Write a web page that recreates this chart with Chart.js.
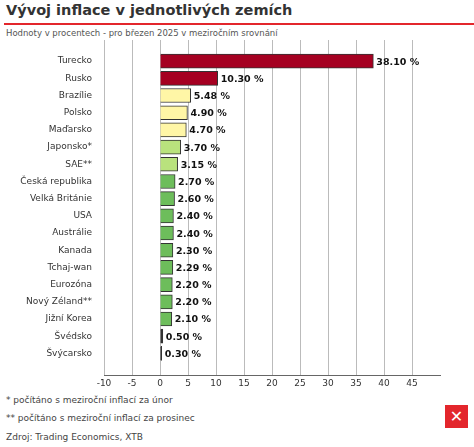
<!DOCTYPE html><html><head><meta charset="utf-8">
<script src="https://cdn.jsdelivr.net/npm/chart.js@4"></script>
<style>
body{margin:0;width:474px;height:447px;background:#fff;font-family:"DejaVu Sans",sans-serif;position:relative;overflow:hidden}
#t{position:absolute;left:6px;top:2px;font-size:14.5px;font-weight:bold;color:#333}
#line{position:absolute;left:4px;top:23px;width:470px;height:2px;background:#e3262c}
#s{position:absolute;left:6px;top:28px;font-size:8.5px;color:#555}
#c{position:absolute;left:0;top:40px}
.f{position:absolute;left:6px;font-size:9px;color:#444}
#logo{position:absolute;left:445px;top:405px;width:23px;height:23px;background:#e3262c;color:#fff;font-weight:bold;font-size:16px;text-align:center;line-height:23px}
</style></head><body>
<div id="t">Vývoj inflace v jednotlivých zemích</div><div id="line"></div>
<div id="s">Hodnoty v procentech - pro březen 2025 v meziročním srovnání</div>
<div id="c"><canvas id="cv" width="474" height="352" style="width:474px;height:352px"></canvas></div>
<div class="f" style="top:395px">* počítáno s meziroční inflací za únor</div>
<div class="f" style="top:413px">** počítáno s meziroční inflací za prosinec</div>
<div class="f" style="top:432px">Zdroj: Trading Economics, XTB</div>
<div id="logo">✕</div>
<script>
const categories=["Turecko","Rusko","Brazílie","Polsko","Maďarsko","Japonsko*","SAE**","Česká republika","Velká Británie","USA","Austrálie","Kanada","Tchaj-wan","Eurozóna","Nový Zéland**","Jižní Korea","Švédsko","Švýcarsko"];
const values=[38.10,10.30,5.48,4.90,4.70,3.70,3.15,2.70,2.60,2.40,2.40,2.30,2.29,2.20,2.20,2.10,0.50,0.30];
const colors=["#a50021","#a50021","#fff6a6","#fff6a6","#fff6a6","#b9e27d","#b9e27d","#6dbd5b","#6dbd5b","#6dbd5b","#6dbd5b","#6dbd5b","#6dbd5b","#6dbd5b","#6dbd5b","#6dbd5b","#333333","#333333"];
const lbl={id:'lbl',afterDatasetsDraw(c){const x=c.ctx;x.save();x.font='bold 9.5px "DejaVu Sans"';x.fillStyle='#111';x.textBaseline='middle';c.getDatasetMeta(0).data.forEach((b,i)=>{x.fillText(values[i].toFixed(2)+' %',b.x+3,b.y+1)});x.restore();}};
new Chart(document.getElementById('cv'),{type:'bar',data:{datasets:[{data:values.map((v,i)=>({x:v,y:i})),backgroundColor:colors,borderColor:'#333',borderWidth:1,barThickness:14}]},
options:{indexAxis:'y',responsive:false,animation:false,layout:{padding:{left:0,right:34,top:0,bottom:0}},plugins:{legend:{display:false},tooltip:{enabled:false}},
scales:{x:{type:'linear',min:-10,max:50,ticks:{stepSize:5,color:'#333',font:{size:9,family:'DejaVu Sans'},callback:v=>v>=50?'':v},grid:{color:c=>c.tick.value>=50?'rgba(0,0,0,0)':'#bbb',lineWidth:1,drawTicks:false},border:{display:true,color:'#666'}},
y:{type:'linear',offset:false,reverse:true,min:-1.23,max:18.27,afterBuildTicks(s){s.ticks=categories.map((c,i)=>({value:i}))},afterFit(s){s.width=104;s.paddingTop=0;s.paddingBottom=0},ticks:{autoSkip:false,color:'#333',font:{size:9,family:'DejaVu Sans'},padding:4,callback:v=>categories[v]},grid:{display:false},border:{display:false}}}},plugins:[lbl]});
</script></body></html>
